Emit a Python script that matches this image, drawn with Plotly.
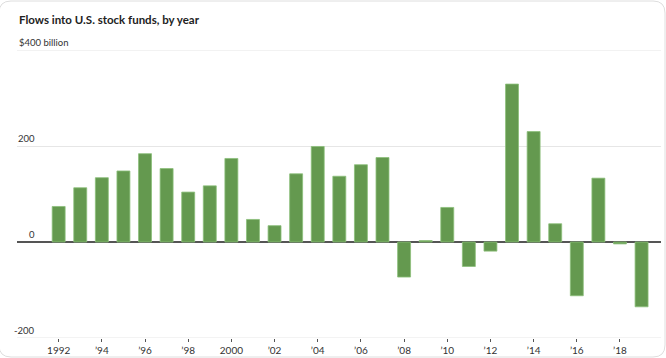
import plotly.graph_objects as go

years = list(range(1992, 2020))
flows = [74, 113, 134, 148, 184, 153, 104, 117, 174, 47,
         34, 142, 199, 137, 161, 176, -73, 3, 72, -51,
         -19, 329, 230, 38, -112, 133, -4, -135]
tick_years = list(range(1992, 2019, 2))
tick_labels = ["1992", "\u201994", "\u201996", "\u201998", "2000", "\u201902", "\u201904",
               "\u201906", "\u201908", "\u201910", "\u201912", "\u201914", "\u201916", "\u201918"]
y_ticks = [-200, 0, 200, 400]
y_labels = ["-200", "0", "200", "$400 billion"]

FONT = "Lato, Roboto, sans-serif"

fig = go.Figure()
fig.add_trace(go.Bar(
    x=years, y=flows,
    marker=dict(color="#64994f", line=dict(color="#8cbf7a", width=0.8)),
    width=0.6, hoverinfo="skip",
))

W, H = 666, 358
ml, mr, mt, mb = 17, 5, 50, 20
plot_w = W - ml - mr
plot_h = H - mt - mb

def X(px):
    return (px - ml) / plot_w

def Y(py):
    return (H - mb - py) / plot_h

fig.update_layout(
    width=W, height=H,
    margin=dict(l=ml, r=mr, t=mt, b=mb, autoexpand=False),
    plot_bgcolor="white", paper_bgcolor="white",
    showlegend=False,
    font=dict(family=FONT, size=10, color="#333"),
    xaxis=dict(
        range=[1990.07, 2019.9],
        tickmode="array", tickvals=tick_years, ticktext=tick_labels,
        ticks="outside", ticklen=3, tickcolor="#555", tickwidth=1,
        showgrid=False, zeroline=False, showline=False,
        tickfont=dict(family=FONT, size=10, color="#333"),
        automargin=False,
    ),
    yaxis=dict(
        range=[-200, 400],
        tickmode="array", tickvals=y_ticks,
        showticklabels=False,
        showgrid=True, gridcolor="#e6e6e6", gridwidth=1,
        zeroline=True, zerolinecolor="#555", zerolinewidth=1.5,
        showline=False, automargin=False,
    ),
)

# edge gridlines (top and bottom of the value range)
for v in (y_ticks[0], y_ticks[-1]):
    fig.add_shape(type="line", xref="paper", yref="y", x0=0, x1=1, y0=v, y1=v,
                  line=dict(color="#e6e6e6", width=1), layer="below")

# faint rounded card border
L, T, R, B, r = -1, 1, 665, 357, 12
path = (f"M {X(L + r)},{Y(T)} L {X(R - r)},{Y(T)} Q {X(R)},{Y(T)} {X(R)},{Y(T + r)} "
        f"L {X(R)},{Y(B - r)} Q {X(R)},{Y(B)} {X(R - r)},{Y(B)} "
        f"L {X(L + r)},{Y(B)} Q {X(L)},{Y(B)} {X(L)},{Y(B - r)} "
        f"L {X(L)},{Y(T + r)} Q {X(L)},{Y(T)} {X(L + r)},{Y(T)} Z")
fig.add_shape(type="path", xref="paper", yref="paper", path=path,
              line=dict(color="#dedede", width=1), layer="above")

for v, lab in zip(y_ticks, y_labels):
    if v == 400:
        fig.add_annotation(x=0, xref="paper", xanchor="left", y=v, yref="y",
                           yanchor="bottom", text=lab, showarrow=False,
                           font=dict(family=FONT, size=9.5, color="#333"))
    else:
        fig.add_annotation(x=X(37), xref="paper", xanchor="right",
                           y=v, yref="y", yanchor="bottom", text=lab, showarrow=False,
                           font=dict(family=FONT, size=9.5, color="#333"))

fig.add_annotation(x=0, xref="paper", xanchor="left",
                   y=Y(19), yref="paper", yanchor="middle",
                   text="<b>Flows into U.S. stock funds, by year</b>", showarrow=False,
                   font=dict(family=FONT, size=11.5, color="#222"))

fig.write_html("out.html", config={"displayModeBar": False},
               post_script="document.body.style.margin='0';")
